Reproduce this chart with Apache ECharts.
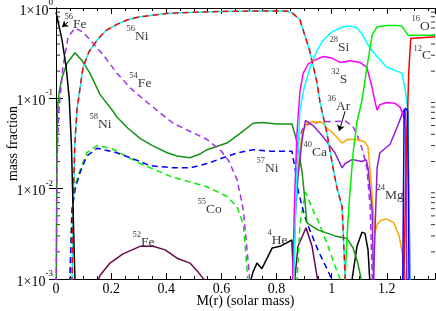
<!DOCTYPE html>
<html><head><meta charset="utf-8">
<script src="https://cdn.jsdelivr.net/npm/echarts@6/dist/echarts.min.js"></script>
<style>html,body{margin:0;padding:0;background:#fff}#c{width:436px;height:311px}</style>
</head><body><div id="c"></div>
<script>
// ---- data (x: M(r) in solar mass, y: mass fraction) ----
const fe56 = [[0,0.9],[0.022,0.44],[0.037,0.22],[0.048,0.1],[0.056,0.03],[0.062,0.006],[0.066,0.002],[0.069,0.0009]];
const ni56 = [[0.058,0.0009],[0.062,0.006],[0.068,0.03],[0.076,0.074],[0.082,0.1],[0.098,0.22],[0.12,0.33],[0.149,0.44],[0.18,0.56],[0.221,0.66],[0.26,0.74],[0.305,0.8],[0.4,0.87],[0.5,0.9],[0.6,0.915],[0.7,0.925],[0.8,0.93],[0.84,0.92],[0.86,0.87],[0.885,0.74],[0.9,0.53],[0.92,0.34],[0.947,0.148],[0.958,0.09],[0.983,0.041],[1.005,0.017],[1.02,0.01],[1.038,0.0063],[1.05,0.0009]];
const fe54a = [[0.001,0.0009],[0.004,0.02],[0.01,0.07],[0.025,0.22],[0.044,0.48],[0.069,0.6],[0.098,0.54],[0.134,0.41],[0.18,0.28],[0.221,0.19],[0.27,0.13],[0.32,0.096],[0.425,0.053],[0.548,0.035],[0.6,0.026],[0.628,0.02],[0.657,0.0125],[0.68,0.0058],[0.704,0.0009]];
const fe54b = [[0.86,0.0009],[0.864,0.004],[0.87,0.015],[0.88,0.035],[0.9,0.05],[0.93,0.053],[0.97,0.055],[1.05,0.056],[1.075,0.05],[1.092,0.04],[1.11,0.028],[1.128,0.017],[1.14,0.006],[1.148,0.0009]];
const ni58 = [[0.001,0.0009],[0.003,0.02],[0.005,0.074],[0.012,0.12],[0.022,0.17],[0.04,0.245],[0.069,0.32],[0.095,0.26],[0.123,0.19],[0.16,0.11],[0.207,0.072],[0.221,0.062],[0.26,0.047],[0.305,0.036],[0.35,0.03],[0.403,0.025],[0.44,0.023],[0.486,0.022],[0.52,0.024],[0.548,0.027],[0.62,0.032],[0.668,0.041],[0.715,0.053],[0.75,0.054],[0.8,0.052],[0.856,0.052],[0.867,0.04],[0.878,0.029],[0.893,0.015],[0.903,0.0075],[0.91,0.0042],[0.92,0.004],[0.95,0.0035],[1.012,0.003],[1.056,0.0028],[1.078,0.0022],[1.095,0.0015],[1.11,0.0009]];
const co55a = [[0.05,0.0009],[0.058,0.0058],[0.07,0.011],[0.087,0.016],[0.112,0.025],[0.149,0.03],[0.2,0.028],[0.305,0.019],[0.42,0.0135],[0.548,0.0105],[0.62,0.0082],[0.657,0.0063],[0.68,0.004],[0.697,0.0009]];
const co55b = [[0.874,0.0009],[0.885,0.004],[0.905,0.0092],[0.93,0.006],[0.95,0.0045],[0.987,0.0023],[1.012,0.0014],[1.036,0.0009]];
const ni57 = [[0.05,0.0009],[0.058,0.0058],[0.07,0.01],[0.087,0.015],[0.112,0.023],[0.149,0.028],[0.221,0.025],[0.305,0.02],[0.34,0.018],[0.425,0.017],[0.486,0.017],[0.55,0.019],[0.606,0.022],[0.66,0.025],[0.715,0.027],[0.78,0.026],[0.856,0.026],[0.867,0.017],[0.878,0.0097],[0.893,0.0063],[0.91,0.0042],[0.95,0.0021],[0.994,0.0011],[1.0,0.0009]];
const fe52a = [[0.149,0.0009],[0.16,0.0011],[0.196,0.0015],[0.243,0.0019],[0.305,0.0023],[0.352,0.0023],[0.396,0.0021],[0.439,0.0017],[0.486,0.0015],[0.515,0.0012],[0.548,0.0009]];
const fe52b = [[0.865,0.0009],[0.878,0.0023],[0.907,0.0037],[0.929,0.0023],[0.951,0.0009]];
const he4a = [[0.704,0.0009],[0.715,0.0012],[0.729,0.0015],[0.747,0.0013],[0.766,0.0017],[0.784,0.0022],[0.813,0.0023],[0.856,0.0027],[0.859,0.0015],[0.862,0.0009]];
const he4b = [[1.072,0.0009],[1.092,0.0023],[1.11,0.0033],[1.121,0.0032],[1.132,0.0021],[1.139,0.0009]];
const ca40 = [[0.86,0.0009],[0.868,0.005],[0.878,0.0135],[0.893,0.035],[0.905,0.057],[0.933,0.05],[0.958,0.041],[0.983,0.033],[1.012,0.025],[1.038,0.017],[1.049,0.019],[1.074,0.021],[1.11,0.02],[1.125,0.021],[1.132,0.017],[1.147,0.0057],[1.152,0.0009]];
const mg24 = [[1.152,0.0009],[1.158,0.004],[1.165,0.017],[1.175,0.025],[1.212,0.031],[1.24,0.05],[1.262,0.075],[1.268,0.07],[1.273,0.0009]];
const ar36 = [[0.862,0.0009],[0.867,0.0057],[0.878,0.017],[0.893,0.041],[0.91,0.053],[0.93,0.055],[0.965,0.054],[0.983,0.047],[1.005,0.041],[1.038,0.032],[1.056,0.035],[1.09,0.035],[1.12,0.033],[1.132,0.029],[1.145,0.01],[1.152,0.005],[1.157,0.0032],[1.165,0.004],[1.18,0.0045],[1.2,0.0046],[1.225,0.0042],[1.245,0.003],[1.258,0.0018],[1.27,0.0009]];
const s32 = [[0.858,0.0009],[0.866,0.008],[0.874,0.04],[0.885,0.12],[0.897,0.19],[0.915,0.24],[0.933,0.26],[0.969,0.29],[1.0,0.28],[1.03,0.25],[1.067,0.26],[1.103,0.25],[1.128,0.22],[1.147,0.13],[1.158,0.09],[1.165,0.074],[1.175,0.085],[1.2,0.09],[1.23,0.088],[1.248,0.08],[1.266,0.058],[1.277,0.027],[1.285,0.0009]];
const si28 = [[0.862,0.0009],[0.872,0.01],[0.885,0.074],[0.9,0.13],[0.922,0.22],[0.945,0.33],[0.969,0.44],[1.0,0.54],[1.041,0.62],[1.07,0.63],[1.092,0.6],[1.11,0.52],[1.128,0.41],[1.145,0.34],[1.165,0.29],[1.201,0.22],[1.237,0.2],[1.255,0.19],[1.266,0.13],[1.277,0.074],[1.284,0.0009]];
const o16 = [[1.048,0.0009],[1.056,0.003],[1.065,0.008],[1.078,0.025],[1.092,0.055],[1.11,0.095],[1.128,0.22],[1.147,0.5],[1.165,0.62],[1.2,0.64],[1.237,0.64],[1.255,0.63],[1.277,0.5],[1.375,0.5]];
const c12 = [[1.262,0.0009],[1.27,0.02],[1.28,0.2],[1.287,0.46],[1.375,0.48]];
const blueR = [[1.258,0.0009],[1.263,0.07],[1.268,0.078],[1.276,0.072],[1.281,0.0009]];

// tick values
const xTicks = [0, 0.2, 0.4, 0.6, 0.8, 1, 1.2];
const yMinorTicks = [0.002,0.003,0.004,0.005,0.006,0.007,0.008,0.009,0.02,0.03,0.04,0.05,0.06,0.07,0.08,0.09,0.2,0.3,0.4,0.5,0.6,0.7,0.8,0.9];

// annotations: [x of left edge, y, superscript, element]
const labels = [
  [0.033,0.70,'56','Fe'],[0.258,0.515,'56','Ni'],[0.268,0.155,'54','Fe'],[0.123,0.0547,'58','Ni'],
  [0.729,0.0178,'57','Ni'],[0.515,0.00625,'55','Co'],[0.279,0.0027,'52','Fe'],[0.769,0.00284,'4','He'],
  [0.9,0.0268,'40','Ca'],[0.987,0.0865,'36','Ar'],[1.165,0.0089,'24','Mg'],[0.994,0.389,'28','Si'],
  [1.0,0.172,'32','S'],[1.292,0.665,'16','O'],[1.299,0.31,'12','C']
];
const arrows = [ [[0.044,0.70],[0.022,0.615]], [[1.049,0.072],[1.027,0.0435]] ];

const FONT = "'Liberation Serif','Times New Roman',serif";
const XMIN = 0, XMAX = 1.375;

function ln(data, color, dashed, w){
  return {type:'line', data:data, symbol:'none', silent:true, clip:true,
    lineStyle:{color:color, width:w||1.5, type: dashed ? [6,4] : 'solid'}};
}
const series = [
  ln(fe52a,'#6b0a4a'), ln(fe52b,'#6b0a4a'),
  ln(he4a,'#000'), ln(he4b,'#000'),
  ln(co55a,'#00ee00',true), ln(co55b,'#00ee00',true),
  ln(ni57,'#0000ff',true),
  ln(ni58,'#139313'),
  ln(fe54a,'#a030f0',true), ln(fe54b,'#a030f0',true),
  ln(ar36,'#ffa500'),
  ln(ca40,'#9020d0'), ln(mg24,'#9020d0'),
  ln(s32,'#ff00ff'),
  ln(si28,'#00ffff'),
  ln(o16,'#00ee00'),
  ln(c12,'#ff0000'),
  ln(blueR,'#0000ff'),
  ln(ni56,'#00ffff'), ln(ni56,'#ff0000',true),
  ln(fe56,'#000'),
  {type:'scatter', silent:true, clip:false, symbol:'rect', symbolSize:[4,1], symbolOffset:[2,0],
    itemStyle:{color:'#000'}, data: yMinorTicks.map(v=>[XMIN,v])},
  {type:'scatter', silent:true, clip:false, symbol:'rect', symbolSize:[4,1], symbolOffset:[-2,0],
    itemStyle:{color:'#000'}, data: yMinorTicks.map(v=>[XMAX,v])},
  {type:'lines', coordinateSystem:'cartesian2d', silent:true, symbol:['none','arrow'], symbolSize:6,
    lineStyle:{color:'#000', width:1, opacity:1}, data: arrows.map(a=>({coords:a}))},
  {type:'scatter', silent:true, symbolSize:1, itemStyle:{color:'transparent'},
    data: labels.map(l=>({value:[l[0],l[1]], sup:l[2], el:l[3]})),
    label:{show:true, position:[0,0], align:'left', verticalAlign:'middle', fontFamily:FONT, color:'#000',
      formatter: p => '{s|'+p.data.sup+'}{t|'+p.data.el+'}',
      rich:{ s:{fontSize:8.5, lineHeight:8, verticalAlign:'top', fontFamily:FONT, color:'#000'},
             t:{fontSize:13.5, lineHeight:19, verticalAlign:'bottom', fontFamily:FONT, color:'#000'} } } }
];

const axLine = {show:true, lineStyle:{color:'#000', width:1}};
const chart = echarts.init(document.getElementById('c'), null, {renderer:'canvas'});
chart.setOption({
  animation:false,
  grid:{left:56, right:1, top:8, bottom:32, containLabel:false, outerBoundsMode:'none'},
  xAxis:[
    {type:'value', min:XMIN, max:XMAX, interval:0.2, position:'bottom',
     axisLine:axLine, splitLine:{show:false},
     axisTick:{inside:true, length:6, lineStyle:{color:'#000'}},
     minorTick:{show:true, splitNumber:4, length:3, lineStyle:{color:'#000'}},
     axisLabel:{margin:3, fontSize:14, fontFamily:FONT, color:'#000', showMaxLabel:false,
       formatter: v => xTicks.indexOf(+v.toFixed(3))>=0 ? String(+v.toFixed(3)) : ''},
     name:'M(r) (solar mass)', nameLocation:'middle', nameGap:15, nameMoveOverlap:false,
     nameTextStyle:{fontSize:14, fontFamily:FONT, color:'#000'}},
    {type:'value', min:XMIN, max:XMAX, interval:0.2, position:'top',
     axisLine:axLine, splitLine:{show:false}, axisLabel:{show:false},
     axisTick:{inside:true, length:6, lineStyle:{color:'#000'}},
     minorTick:{show:true, splitNumber:4, length:3, lineStyle:{color:'#000'}}}
  ],
  yAxis:[
    {type:'log', logBase:10, min:0.001, max:1, position:'left',
     axisLine:axLine, splitLine:{show:false},
     axisTick:{inside:true, length:7, lineStyle:{color:'#000'}},
     axisLabel:{margin:3, fontFamily:FONT, color:'#000',
       formatter: v => '{m|1×10}{e|'+Math.round(Math.log10(v))+'}',
       rich:{ m:{fontSize:14, lineHeight:20, verticalAlign:'bottom', fontFamily:FONT, color:'#000'},
              e:{fontSize:9, lineHeight:9, verticalAlign:'top', fontFamily:FONT, color:'#000'} } },
     name:'mass fraction', nameLocation:'middle', nameGap:36, nameMoveOverlap:false,
     nameTextStyle:{fontSize:14, fontFamily:FONT, color:'#000'}},
    {type:'log', logBase:10, min:0.001, max:1, position:'right',
     axisLine:axLine, splitLine:{show:false}, axisLabel:{show:false},
     axisTick:{inside:true, length:7, lineStyle:{color:'#000'}}}
  ],
  series: series
});
</script></body></html>
